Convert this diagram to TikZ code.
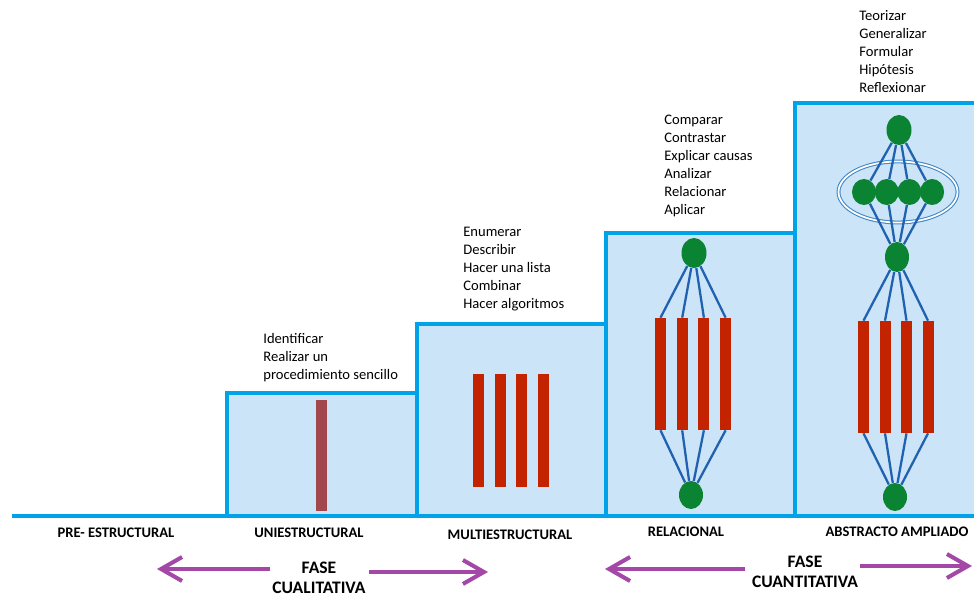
\documentclass[tikz,border=0pt]{standalone}
\usepackage{fontspec}
\setmainfont{Carlito}
\usepackage{tikz}
\usetikzlibrary{shapes.geometric,arrows.meta}

\definecolor{stepfill}{HTML}{CCE4F8}
\definecolor{stepline}{HTML}{00A3E8}
\definecolor{barred}{HTML}{C42300}
\definecolor{barbrown}{HTML}{A2474C}
\definecolor{dotgreen}{HTML}{0A8432}
\definecolor{linkblue}{HTML}{2062B0}
\definecolor{ringblue}{HTML}{3F86C6}
\definecolor{phasepurple}{HTML}{A448A8}

\tikzset{
	bar/.style={rectangle,fill=barred,inner sep=0pt,minimum width=0.22cm,minimum height=2.24cm},
	dot/.style={ellipse,fill=dotgreen,inner sep=0pt,minimum width=0.5cm,minimum height=0.6cm},
	link/.style={linkblue,line width=1.3pt},
	verbs/.style={anchor=north west,align=left,inner sep=0pt,font=\fontsize{8.3}{10.2}\selectfont},
	level/.style={inner sep=0pt,font=\fontsize{8.3}{10}\selectfont\bfseries},
	phase/.style={inner sep=0pt,align=center,font=\fontsize{10}{11.3}\selectfont\bfseries},
	phasearrow/.style={phasepurple,line width=2.3pt,-{Straight Barb[length=0.42cm,width=0.48cm]}}
}

\begin{document}
\begin{tikzpicture}[x=0.02cm,y=-0.02cm]
	\useasboundingbox (0,0) rectangle (974,597);
	\foreach \xa/\xb/\yt in {227/417/393,417/606/324,606/795/233,795/974/103}
		\fill[stepfill] (\xa,516) rectangle (\xb,\yt);
	\foreach \xa/\xb/\yt in {227/417/393,417/606/324,606/795/233,795/974/103}
		\draw[stepline,line width=2.2pt] (\xa,516) -- (\xa,\yt) -- (\xb,\yt);
	\draw[stepline,line width=2.2pt] (12,516) -- (974,516);

	\node[bar,fill=barbrown,minimum height=2.22cm] (u1) at (321.5,455.5) {};

	\foreach \i in {1,...,4}
		\node[bar,minimum height=2.26cm] (m\i) at ({478.5+(\i-1)*21.7},430.5) {};

	\node[dot] (r0) at (694,253) {};
	\node[dot,minimum width=0.48cm,minimum height=0.56cm] (r1) at (691,495) {};
	\foreach \i in {1,...,4} {
		\node[bar] (rb\i) at ({660.5+(\i-1)*21.7},374) {};
		\draw[link] (r0) -- (rb\i.north);
		\draw[link] (rb\i.south) -- (r1);
	}

	\node[ellipse,draw=ringblue,line width=0.6pt,double=white,double distance=1pt,minimum width=2.38cm,minimum height=1.22cm] (ring) at (898,192) {};
	\node[dot] (a0) at (899,130) {};
	\node[dot,minimum width=0.48cm] (a1) at (897,257) {};
	\node[dot,minimum width=0.48cm,minimum height=0.56cm] (a2) at (895,497) {};
	\foreach \i in {1,...,4} {
		\node[dot,minimum width=0.48cm,minimum height=0.52cm] (s\i) at ({864+(\i-1)*22.7},192) {};
		\draw[link] (a0) -- (s\i);
		\draw[link] (s\i) -- (a1);
		\node[bar] (ab\i) at ({863.5+(\i-1)*21.5},377) {};
		\draw[link] (a1) -- (ab\i.north);
		\draw[link] (ab\i.south) -- (a2);
	}

	\node[verbs] (tu) at (263,333) {Identificar\\Realizar un\\procedimiento sencillo};
	\node[verbs] (tm) at (463,227) {Enumerar\\Describir\\Hacer una lista\\Combinar\\Hacer algoritmos};
	\node[verbs] (tr) at (664,115) {Comparar\\Contrastar\\Explicar causas\\Analizar\\Relacionar\\Aplicar};
	\node[verbs] (ta) at (859,10) {Teorizar\\Generalizar\\Formular\\Hipótesis\\Reflexionar};

	\node[level] (l0) at (116,533) {PRE- ESTRUCTURAL};
	\node[level] (l1) at (309,533) {UNIESTRUCTURAL};
	\node[level] (l2) at (510,535) {MULTIESTRUCTURAL};
	\node[level] (l3) at (686,532) {RELACIONAL};
	\node[level] (l4) at (897,532) {ABSTRACTO AMPLIADO};

	\node[phase] (fq) at (319,578) {FASE\\CUALITATIVA};
	\node[phase] (fn) at (805,572) {FASE\\CUANTITATIVA};
	\coordinate (fq1) at (270,569);
	\coordinate (fq2) at (157,569);
	\coordinate (fq3) at (369,572);
	\coordinate (fq4) at (488,572);
	\coordinate (fn1) at (745,569);
	\coordinate (fn2) at (605,569);
	\coordinate (fn3) at (860,566);
	\coordinate (fn4) at (972,566);
	\draw[phasearrow] (fq1) -- (fq2);
	\draw[phasearrow] (fq3) -- (fq4);
	\draw[phasearrow] (fn1) -- (fn2);
	\draw[phasearrow] (fn3) -- (fn4);
\end{tikzpicture}
\end{document}
